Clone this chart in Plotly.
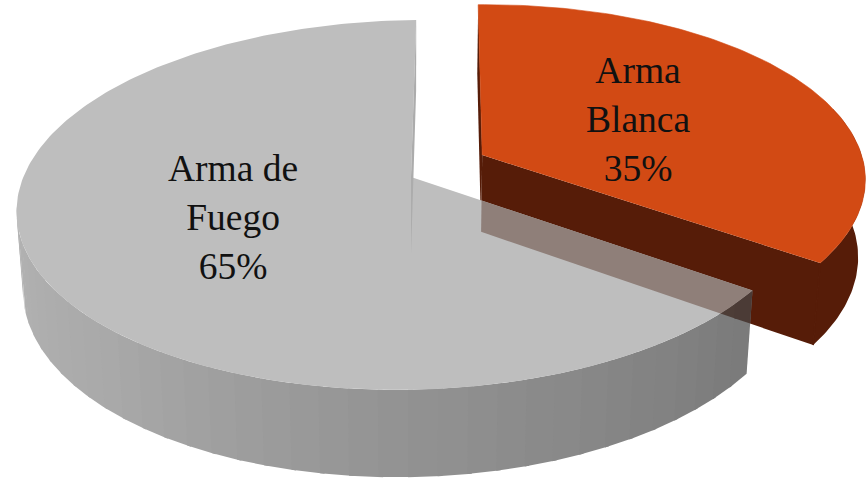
import numpy as np
import plotly.graph_objects as go

categories = ["Arma Blanca", "Arma de Fuego"]
values = [35, 65]
label_lines = [["Arma", "Blanca"], ["Arma de", "Fuego"]]
label_anchor = [(638, 119), (233, 217)]

ROTATION = 0.0
EXPLODE = 0.22
EXPLODE_DIR = 57.0
ORANGE_RADIUS = 0.99
CX, CY = 411.0, 177.0
A, B, C = 389.0, 180.7, 79.0
S, T = 6.0, 3.5
P, Q = 0.151, 0.016

ORANGE_TOP = (210, 74, 20)
ORANGE_WALL = (86, 28, 8)
ALPHA = 0.72
TOP_BASE = 165
EDGE_GRAY = (172, 172, 172)
shade_pos = [0.0, 0.3, 0.6, 1.0]
shade_val = [151, 135, 105, 70]


def css(c):
    return "rgb({},{},{})".format(*[int(round(v)) for v in c])


def blend(g, under):
    return tuple(ALPHA * g + (1 - ALPHA) * u for u in under)


WHITE = (255, 255, 255)


def proj(theta_deg, r=1.0, z=0.0, off=(0.0, 0.0)):
    t = np.radians(np.asarray(theta_deg, dtype=float))
    u = r * np.sin(t) + off[0]
    v = r * np.cos(t) + off[1]
    w = 1 + P * v + Q * z
    return CX + (A * u + S * v) / w, CY - (B * v + T * u - C * z) / w


def poly(x, y, color, lw=0.6):
    return go.Scatter(
        x=list(x), y=list(y), mode="lines", fill="toself", fillcolor=color,
        line=dict(width=lw, color=color), hoverinfo="skip", showlegend=False,
    )


def clip_convex(px, py, cx, cy):
    """Clip polygon (px, py) against the convex polygon (cx, cy)."""
    pts = list(zip(px, py))
    clip = list(zip(cx, cy))
    area = sum(clip[i][0] * clip[(i + 1) % len(clip)][1] - clip[(i + 1) % len(clip)][0] * clip[i][1]
               for i in range(len(clip)))
    sign = 1 if area > 0 else -1
    for i in range(len(clip)):
        a, b = clip[i], clip[(i + 1) % len(clip)]
        side = lambda p: sign * ((b[0] - a[0]) * (p[1] - a[1]) - (b[1] - a[1]) * (p[0] - a[0]))
        out = []
        for j in range(len(pts)):
            p, q = pts[j], pts[(j + 1) % len(pts)]
            sp, sq = side(p), side(q)
            if sp >= 0:
                out.append(p)
            if sp * sq < 0:
                k = sp / (sp - sq)
                out.append((p[0] + k * (q[0] - p[0]), p[1] + k * (q[1] - p[1])))
        pts = out
        if not pts:
            return [], []
    return [p[0] for p in pts], [p[1] for p in pts]


total = sum(values)
a0 = ROTATION
a1 = a0 + 360 * values[0] / total
a2 = a0 + 360
off = (EXPLODE * np.sin(np.radians(EXPLODE_DIR)), EXPLODE * np.cos(np.radians(EXPLODE_DIR)))
fig = go.Figure()

# exploded slice: walls, then top (outer wall only where it faces the viewer)
arc_wall = np.linspace(a0 + 75, a1, 60)
wx, wy = proj(arc_wall, r=ORANGE_RADIUS, off=off)
bx, by = proj(arc_wall, r=ORANGE_RADIUS, z=1, off=off)
fig.add_trace(poly(np.r_[wx, bx[::-1]], np.r_[wy, by[::-1]], css(ORANGE_WALL), lw=0))
faces = []
for edge in (a0, a1):
    e0x, e0y = proj(edge, r=ORANGE_RADIUS, off=off)
    c0x, c0y = proj(edge, r=0, off=off)
    c1x, c1y = proj(edge, r=0, z=1, off=off)
    e1x, e1y = proj(edge, r=ORANGE_RADIUS, z=1, off=off)
    faces.append(([e0x, c0x, c1x, e1x], [e0y, c0y, c1y, e1y]))
    fig.add_trace(poly(*faces[-1], css(ORANGE_WALL), lw=0))
# corner where the cut face meets the outer wall
fig.add_trace(go.Scatter(
    x=[faces[1][0][0], faces[1][0][3]], y=[faces[1][1][0], faces[1][1][3]], mode="lines",
    line=dict(width=1.5, color=css(ORANGE_WALL)), hoverinfo="skip", showlegend=False,
))
arc = np.linspace(a0, a1, 120)
ox, oy = proj(arc, r=ORANGE_RADIUS, off=off)
cx0, cy0 = proj(0, r=0, off=off)
fig.add_trace(poly(np.r_[cx0, ox], np.r_[cy0, oy], css(ORANGE_TOP), lw=0.6))
front_x, front_y = faces[1]

# large slice: banded outer wall; each band runs slightly under the next
a_left = 262.0
edges = np.linspace(a1, a_left, 37)
bands = []
for i in range(len(edges) - 1):
    seg = np.linspace(edges[i], min(edges[i + 1] + 0.6, a_left), 5)
    tx, ty = proj(seg)
    lx, ly = proj(seg, z=1)
    frac = (a_left - 0.5 * (edges[i] + edges[i + 1])) / (a_left - a1)
    g = float(np.interp(frac, shade_pos, shade_val))
    x, y = np.r_[tx, lx[::-1]], np.r_[ty, ly[::-1]]
    bands.append((x, y, g))
for x, y, g in reversed(bands):
    fig.add_trace(poly(x, y, css(blend(g, WHITE)), lw=0))

# top of large slice
arc2 = np.linspace(a1, a2, 240)
gx, gy = proj(arc2)
ccx, ccy = proj(0, r=0)
top_x, top_y = np.r_[ccx, gx], np.r_[ccy, gy]
fig.add_trace(poly(top_x, top_y, css(blend(TOP_BASE, WHITE)), lw=0))

# see-through effect where the large slice lies over the exploded slice's cut face
for x, y, g in reversed(bands):
    cx, cy = clip_convex(x, y, front_x, front_y)
    if cx:
        fig.add_trace(poly(cx, cy, css(blend(g, ORANGE_WALL)), lw=0))
cx, cy = clip_convex(top_x, top_y, front_x, front_y)
if cx:
    fig.add_trace(poly(cx, cy, css(blend(TOP_BASE, ORANGE_WALL)), lw=0))

# thin cut wall at the notch
e0x, e0y = proj(a2)
c1x, c1y = proj(0, r=0, z=1)
e1x, e1y = proj(a2, z=1)
fig.add_trace(poly([e0x, ccx, c1x, e1x], [e0y, ccy, c1y, e1y], css(EDGE_GRAY), lw=0))

annotations = []
for lines, val, (ax, ay) in zip(label_lines, values, label_anchor):
    annotations.append(dict(
        x=ax, y=ay, xref="x", yref="y", showarrow=False,
        text="<br>".join(lines + [f"{round(100 * val / total)}%"]),
        align="center", xanchor="center", yanchor="middle",
        font=dict(family="Liberation Serif", size=37.5, color="#111111"),
    ))

fig.update_layout(
    width=867, height=478, margin=dict(l=0, r=0, t=0, b=0),
    paper_bgcolor="white", plot_bgcolor="white", showlegend=False,
    xaxis=dict(range=[0, 867], visible=False, fixedrange=True),
    yaxis=dict(range=[478, 0], visible=False, fixedrange=True),
    annotations=annotations,
)
fig.write_html("out.html", config={"displayModeBar": False},
               post_script="document.body.style.margin='0';document.documentElement.style.overflow='hidden';")
